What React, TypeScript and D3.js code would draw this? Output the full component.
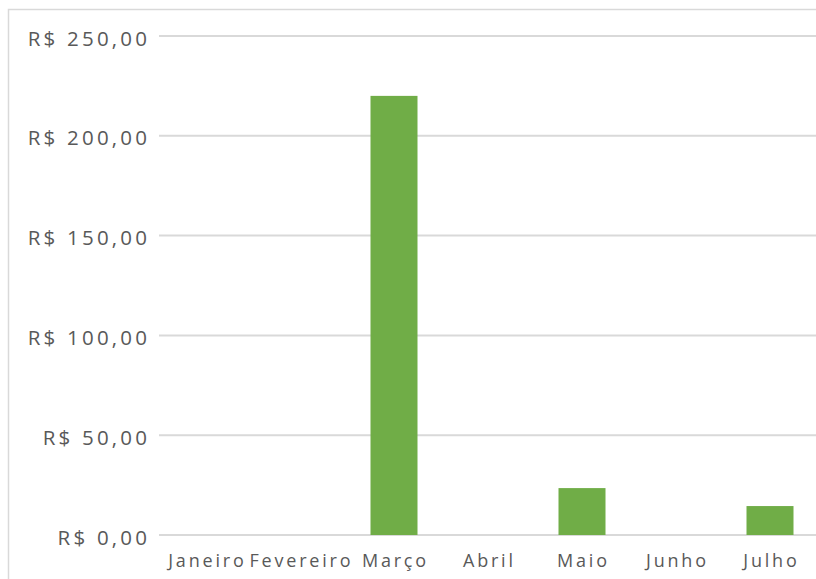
import React, { useEffect } from "react";
import * as d3 from "d3";

const months = ["Janeiro", "Fevereiro", "Março", "Abril", "Maio", "Junho", "Julho"];
const values = [0, 0, 220, 0, 23.5, 0, 14.5];
const yTicks = [0, 50, 100, 150, 200, 250];

const W = 816;
const H = 579;
const plotLeft = 159;
const plotRight = 817;
const y0 = 535;
const yTop = 36;

function fmt(v: number) {
  return "R$ " + v.toFixed(2).replace(".", ",");
}

export default function App() {
  useEffect(() => {
    document.body.style.margin = "0";
  }, []);
  const x = d3.scaleBand<string>().domain(months).range([plotLeft, plotRight]).paddingInner(0.5).paddingOuter(0.25);
  const y = d3.scaleLinear().domain([0, 250]).range([y0, yTop]);
  const font = "'Open Sans', sans-serif";
  const ySp = 3.2;
  const xSp = 2.8;
  return (
    <svg width={W} height={H} style={{ display: "block", background: "#fff" }}>
      <rect x={8.5} y={9.5} width={W + 10} height={H + 10} fill="none" stroke="#d9d9d9" strokeWidth={1.5} />
      {yTicks.map((t) => (
        <g key={t}>
          <line x1={plotLeft} x2={W} y1={y(t)} y2={y(t)} stroke="#d9d9d9" strokeWidth={2} />
          <text
            x={147 + ySp}
            y={y(t) + 9.5}
            textAnchor="end"
            fontFamily={font}
            fontSize={20.5}
            letterSpacing={ySp}
            fill="#595959"
          >
            {fmt(t)}
          </text>
        </g>
      ))}
      {months.map((m, i) => (
        <rect
          key={m}
          x={x(m)}
          width={x.bandwidth()}
          y={y(values[i])}
          height={y0 - y(values[i])}
          fill="#70ad47"
        />
      ))}
      {months.map((m) => (
        <text
          key={m}
          x={(x(m) as number) + x.bandwidth() / 2 + xSp / 2}
          y={567}
          textAnchor="middle"
          fontFamily={font}
          fontSize={18}
          letterSpacing={xSp}
          fill="#595959"
        >
          {m}
        </text>
      ))}
    </svg>
  );
}
